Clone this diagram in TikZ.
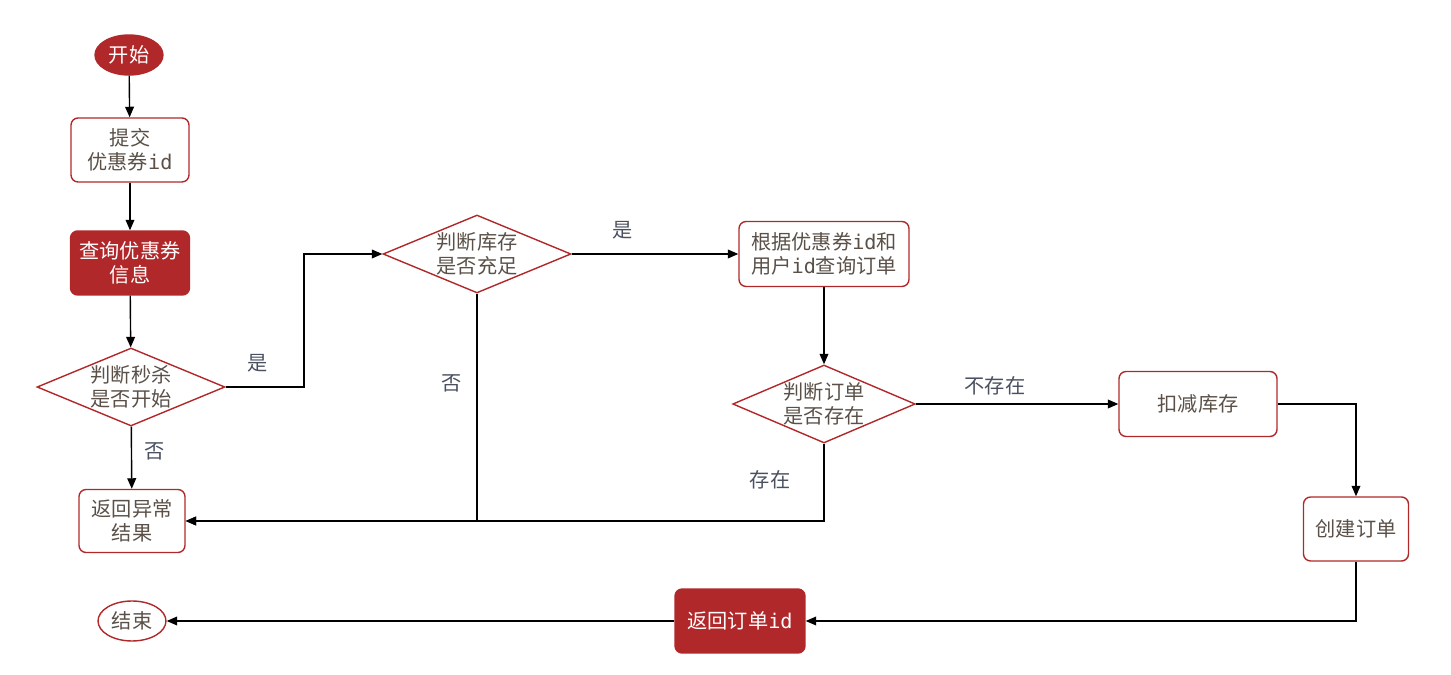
\documentclass[tikz,border=0pt]{standalone}
\usepackage{fontspec}
\newfontfamily\cjk{Noto Sans CJK SC}
\setmonofont{DejaVu Sans Mono}
\usetikzlibrary{shapes.geometric,arrows.meta}
\definecolor{darkred}{HTML}{B0282A}
\definecolor{txt}{HTML}{5A5048}
\definecolor{lbl}{HTML}{4A5060}
\newcommand{\ID}{\texttt{id}}

\tikzstyle{every node}=[font=\cjk\fontsize{11.5}{13.5}\selectfont, align=center, text=txt]
\tikzstyle{box}=[draw=darkred, thick, rounded corners=4pt, inner sep=0pt]
\tikzstyle{fillbox}=[box, fill=darkred, text=white]
\tikzstyle{term}=[ellipse, draw=darkred, thick, inner sep=0pt, minimum width=1.36cm, minimum height=0.8cm]
\tikzstyle{decision}=[diamond, draw=darkred, thick, aspect=2.4, inner sep=0pt, minimum width=3.76cm, minimum height=1.56cm]
\tikzstyle{line}=[draw, thick, -{Triangle[length=6pt,width=5pt]}]
\tikzstyle{lab}=[text=lbl]

\begin{document}
\begin{tikzpicture}[x=0.02cm, y=-0.02cm]
  \useasboundingbox (0,0) rectangle (1451,675);
  \node[term, fill=darkred, text=white] (start) at (129,55) {开始};
  \node[box, minimum width=2.36cm, minimum height=1.28cm] (submit) at (130,150) {提交\\优惠券\ID};
  \node[fillbox, minimum width=2.38cm, minimum height=1.28cm] (query) at (130,263) {查询优惠券\\信息};
  \node[decision] (begin) at (131,387) {判断秒杀\\是否开始};
  \node[box, minimum width=2.12cm, minimum height=1.26cm] (error) at (132,521) {返回异常\\结果};
  \node[term] (end) at (132,621) {结束};
  \node[decision] (stock) at (477,254) {判断库存\\是否充足};
  \node[box, minimum width=3.4cm, minimum height=1.3cm] (order) at (824,254) {根据优惠券\ID 和\\用户\ID 查询订单};
  \node[decision, minimum width=3.64cm] (exist) at (824,404) {判断订单\\是否存在};
  \node[box, minimum width=3.16cm, minimum height=1.3cm] (reduce) at (1198,404) {扣减库存};
  \node[box, minimum width=2.1cm, minimum height=1.28cm] (create) at (1356,529) {创建订单};
  \node[fillbox, minimum width=2.6cm, minimum height=1.28cm] (result) at (740,621) {返回订单\ID};

  % labels
  \node[lab] (yes1) at (258,363) {是};
  \node[lab] (no1) at (155,451) {否};
  \node[lab] (no2) at (452,383) {否};
  \node[lab] (yes2) at (623,230) {是};
  \node[lab] (absent) at (995,386) {不存在};
  \node[lab] (present) at (770,480) {存在};

  \path[line] (start) -- (submit);
  \path[line] (submit) -- (query);
  \path[line] (query) -- (begin);
  \path[line] (begin.east) -- (304,387) |- (stock.west);
  \path[line] (begin) -- (error);
  \path[line] (stock.south) |- (error.east);
  \path[line] (stock.east) -- (order.west);
  \path[line] (order) -- (exist);
  \path[line] (exist.east) -- (reduce.west);
  \path[line] (exist.south) |- (error.east);
  \path[line] (reduce.east) -| (create.north);
  \path[line] (create.south) |- (result.east);
  \path[line] (result) -- (end);
\end{tikzpicture}
\end{document}
